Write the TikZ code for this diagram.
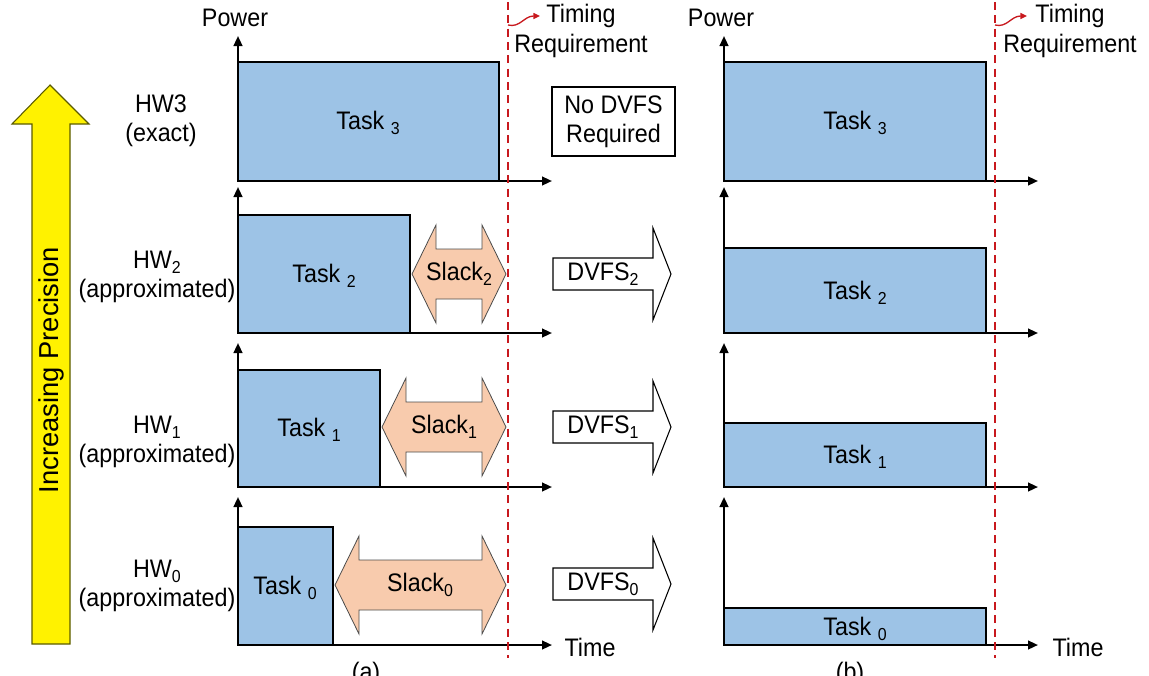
\documentclass[tikz,border=0pt]{standalone}
\usepackage{fontspec}
\setmainfont{Liberation Sans}[FakeStretch=0.92]
\newfontfamily\widefont{Liberation Sans}
\usetikzlibrary{arrows.meta}

\definecolor{taskblue}{RGB}{157,195,230}
\definecolor{slackpeach}{RGB}{248,203,173}
\definecolor{deadred}{RGB}{200,25,30}
\definecolor{arrowolive}{RGB}{90,90,0}

\newcommand{\tsub}[1]{\raisebox{-4pt}{\fontsize{13}{13}\selectfont #1}}

\tikzset{
	every node/.style={font=\fontsize{19}{22}\selectfont, inner sep=0pt},
	axis/.style={line width=1.6pt, -{Triangle[length=7.5pt,width=6.5pt]}},
	taskbox/.style={fill=taskblue, draw=black, line width=1.8pt},
	slackarrow/.style={fill=slackpeach, draw=black!70, line width=0.6pt},
	dvfsarrow/.style={fill=white, draw=black, line width=0.8pt},
	deadline/.style={deadred, line width=1.6pt, dash pattern=on 6pt off 4pt},
	timingarrow/.style={deadred, line width=1pt, -{Triangle[length=5pt,width=4.5pt]}}
}

\begin{document}
\begin{tikzpicture}[x=0.75pt,y=-0.75pt] % pixel grid, y down
		\useasboundingbox (0,0) rectangle (1149,675);

		% increasing precision
		\filldraw[fill=yellow, draw=arrowolive, line width=0.8pt] (32,644) -- (32,124) -- (12,124) -- (50,85) -- (89,124) -- (70,124) -- (70,644) -- cycle;
		\node[rotate=90, font=\widefont\fontsize{20.5}{24}\selectfont] (prec) at (51,370) {Increasing Precision};

		% hardware labels
		\node[align=center] (hw3) at (161,121) {HW3\\(exact)};
		\node[align=center] (hw2) at (157,277) {HW\tsub{2}\\(approximated)};
		\node[align=center] (hw1) at (157,442) {HW\tsub{1}\\(approximated)};
		\node[align=center] (hw0) at (157,586) {HW\tsub{0}\\(approximated)};

		% (a) tasks with slack
		\filldraw[taskbox] (238,181) rectangle (499,62);
		\filldraw[taskbox] (238,333) rectangle (410,215);
		\filldraw[taskbox] (238,487) rectangle (380,370);
		\filldraw[taskbox] (238,645) rectangle (333,527);

		\draw[axis] (238,181) -- (238,36);
		\draw[axis] (238,181) -- (552,181);
		\draw[axis] (238,333) -- (238,187);
		\draw[axis] (238,333) -- (552,333);
		\draw[axis] (238,487) -- (238,343);
		\draw[axis] (238,487) -- (552,487);
		\draw[axis] (238,645) -- (238,497);
		\draw[axis] (238,645) -- (552,645);

		\node (powerA) at (235,18) {Power};
		\node (timeA) at (590,647) {Time};
		\node[anchor=north] (capA) at (366,662) {(a)};

		\node (taskA3) at (368,123) {Task \tsub{3}};
		\node (taskA2) at (324,276) {Task \tsub{2}};
		\node (taskA1) at (309,430) {Task \tsub{1}};
		\node (taskA0) at (285,588) {Task \tsub{0}};

		\filldraw[slackarrow] (412,274) -- (436,225) -- (436,249) -- (482,249) -- (482,225) -- (506,274) -- (482,323) -- (482,299) -- (436,299) -- (436,323) -- cycle;
		\filldraw[slackarrow] (382,427) -- (406,378) -- (406,402) -- (482,402) -- (482,378) -- (506,427) -- (482,476) -- (482,452) -- (406,452) -- (406,476) -- cycle;
		\filldraw[slackarrow] (335,585) -- (359,536) -- (359,560) -- (482,560) -- (482,536) -- (506,585) -- (482,634) -- (482,610) -- (359,610) -- (359,634) -- cycle;
		\node (slack2) at (459,274) {Slack\tsub{2}};
		\node (slack1) at (444,427) {Slack\tsub{1}};
		\node (slack0) at (420,585) {Slack\tsub{0}};

		% dvfs step
		\node[draw, line width=0.8pt, minimum width=92.25pt, minimum height=51.75pt, align=center] (nodvfs) at (613.5,121.5) {No DVFS\\Required};
		\filldraw[dvfsarrow] (553,258) -- (653,258) -- (653,228) -- (671,274) -- (653,320) -- (653,290) -- (553,290) -- cycle;
		\filldraw[dvfsarrow] (553,411) -- (653,411) -- (653,381) -- (671,427) -- (653,473) -- (653,443) -- (553,443) -- cycle;
		\filldraw[dvfsarrow] (553,568) -- (653,568) -- (653,538) -- (671,584) -- (653,630) -- (653,600) -- (553,600) -- cycle;
		\node (dvfs2) at (603,274) {DVFS\tsub{2}};
		\node (dvfs1) at (603,427) {DVFS\tsub{1}};
		\node (dvfs0) at (603,584) {DVFS\tsub{0}};

		% (b) tasks stretched to the deadline
		\filldraw[taskbox] (724,181) rectangle (986,62);
		\filldraw[taskbox] (724,333) rectangle (986,248);
		\filldraw[taskbox] (724,487) rectangle (986,423);
		\filldraw[taskbox] (724,645) rectangle (986,608);

		\draw[axis] (724,181) -- (724,36);
		\draw[axis] (724,181) -- (1038,181);
		\draw[axis] (724,333) -- (724,187);
		\draw[axis] (724,333) -- (1038,333);
		\draw[axis] (724,487) -- (724,343);
		\draw[axis] (724,487) -- (1038,487);
		\draw[axis] (724,645) -- (724,497);
		\draw[axis] (724,645) -- (1038,645);

		\node (powerB) at (721,18) {Power};
		\node (timeB) at (1078,647) {Time};
		\node[anchor=north] (capB) at (850,662) {(b)};

		\node (taskB3) at (855,123) {Task \tsub{3}};
		\node (taskB2) at (855,293) {Task \tsub{2}};
		\node (taskB1) at (855,457) {Task \tsub{1}};
		\node (taskB0) at (855,629) {Task \tsub{0}};

		% timing requirement
		\draw[deadline] (508,2) -- (508,658);
		\draw[deadline] (995,2) -- (995,658);
		\node[align=center] (timingA) at (581,31) {Timing\\Requirement};
		\node[align=center] (timingB) at (1070,31) {Timing\\Requirement};
		\draw[timingarrow] (508,25) .. controls (520,28) and (524,16) .. (540,16);
		\draw[timingarrow] (995,25) .. controls (1007,28) and (1011,16) .. (1027,16);
\end{tikzpicture}
\end{document}
